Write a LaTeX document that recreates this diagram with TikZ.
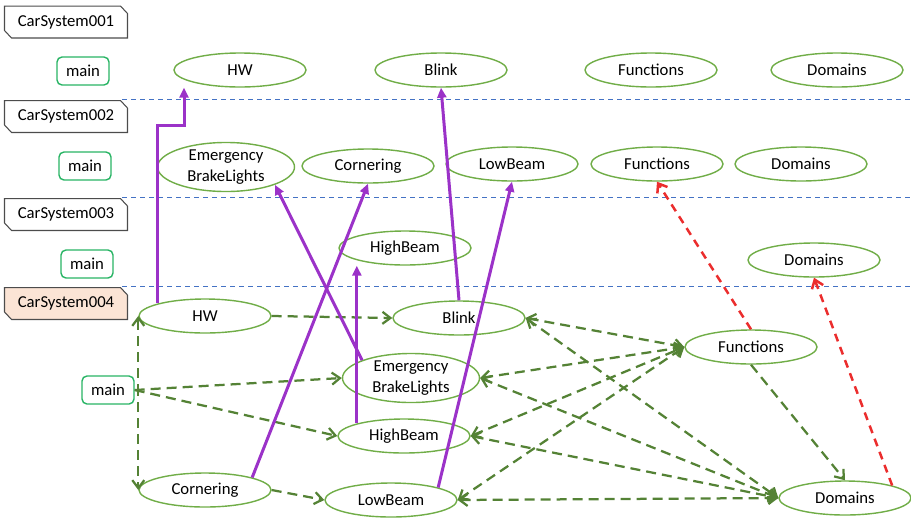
\documentclass[tikz,border=0pt]{standalone}
\usepackage{fontspec}
\setmainfont{Carlito}
\usepackage{tikz}
\usetikzlibrary{arrows.meta,positioning,shapes.geometric,calc}
\definecolor{lanegreen}{RGB}{112,173,71}
\definecolor{depgreen}{RGB}{84,130,53}
\definecolor{mainborder}{RGB}{40,180,100}
\definecolor{sepblue}{RGB}{68,114,196}
\definecolor{tracepurple}{RGB}{155,50,200}
\definecolor{mapred}{RGB}{235,45,45}
\definecolor{sysfill}{RGB}{251,228,213}
\tikzset{
    sysbox/.style   = {rectangle, inner sep=0pt, minimum width=24.8mm, minimum height=6.6mm,
            path picture={
                \path[draw=black!70, fill=#1, line width=0.6pt]
                ($(path picture bounding box.north west)+(0.3pt,-0.3pt)$)
                -- ($(path picture bounding box.north east)+(-1.5mm,-0.3pt)$)
                -- ($(path picture bounding box.north east)+(-0.3pt,-1.6mm)$)
                -- ($(path picture bounding box.south east)+(-0.3pt,0.3pt)$)
                -- ($(path picture bounding box.south west)+(1.5mm,0.3pt)$)
                -- ($(path picture bounding box.south west)+(0.3pt,1.6mm)$) -- cycle;
            }},
    sysbox/.default = white,
    mainbox/.style  = {draw=mainborder, thick, rounded corners=1mm, fill=white,
            minimum width=10.4mm, minimum height=5.6mm, inner sep=0pt},
    feat/.style     = {ellipse, draw=lanegreen, thick, fill=white,
            minimum width=26.4mm, minimum height=6.8mm, inner sep=0pt, align=center},
    featbig/.style  = {feat, minimum width=27.4mm, minimum height=8.4mm},
    laneline/.style = {draw=sepblue, line width=0.3mm, dash pattern=on 1mm off 0.8mm},
    depline/.style  = {-{Straight Barb[length=1.6mm,width=2.4mm]}, draw=depgreen,
            line width=0.45mm, dash pattern=on 2mm off 1.2mm},
    depboth/.style  = {depline, {Straight Barb[length=1.6mm,width=2.4mm]}-{Straight Barb[length=1.6mm,width=2.4mm]}},
    traceline/.style = {-{Triangle[length=2mm,width=1.8mm]}, draw=tracepurple, line width=0.6mm},
    mapline/.style  = {-{Straight Barb[length=1.6mm,width=2.4mm]}, draw=mapred,
            line width=0.5mm, dash pattern=on 1.6mm off 1.2mm},
}

\begin{document}
\begin{tikzpicture}[x=0.2mm, y=-0.2mm, font=\fontsize{9.5}{12}\selectfont]
    \useasboundingbox (0,0) rectangle (911,517);
    \coordinate (R) at (911,0);
    % Lanes
    \node[sysbox] (cs1) at (66,22) {CarSystem001};
    \node[sysbox] (cs2) at (66,116.5) {CarSystem002};
    \node[sysbox] (cs3) at (66,214.5) {CarSystem003};
    \node[sysbox=sysfill] (cs4) at (66,303.5) {CarSystem004};
    \draw[laneline] ([xshift=-1.2mm]cs2.north east) -- (cs2.north east -| R);
    \draw[laneline] ([xshift=-1.2mm]cs3.north east) -- (cs3.north east -| R);
    \draw[laneline] ([xshift=-1.2mm]cs4.north east) -- (cs4.north east -| R);
    % Nodes
    \node[mainbox] (main1) at (83,71) {main};
    \node[feat] (HW1) at (240,70) {HW};
    \node[feat] (Blink1) at (441,70) {Blink};
    \node[feat] (Func1) at (651,70) {Functions};
    \node[feat] (Dom1) at (837,70) {Domains};

    \node[mainbox] (main2) at (85,166) {main};
    \node[featbig] (EBL2) at (226,167) {Emergency\\BrakeLights};
    \node[feat] (Corn2) at (368,166) {Cornering};
    \node[feat] (LB2) at (512,164) {LowBeam};
    \node[feat] (Func2) at (657,164) {Functions};
    \node[feat] (Dom2) at (801,164) {Domains};

    \node[mainbox] (main3) at (87,264) {main};
    \node[feat] (HB3) at (405,248) {HighBeam};
    \node[feat] (Dom3) at (814,260) {Domains};

    \node[mainbox] (main4) at (108,390) {main};
    \node[feat] (HW4) at (205,316) {HW};
    \node[feat] (Blink4) at (459,318) {Blink};
    \node[featbig, minimum height=9mm] (EBL4) at (411,378) {Emergency\\BrakeLights};
    \node[feat] (HB4) at (404,436) {HighBeam};
    \node[feat] (Corn4) at (205,490) {Cornering};
    \node[feat] (LB4) at (391,500) {LowBeam};
    \node[feat] (Func4) at (751,347) {Functions};
    \node[feat] (Dom4) at (845,498) {Domains};
    % Arrows
    \draw[depline] (main4.east) -| (HW4.west);
    \draw[depline] (main4.east) -| (Corn4.west);
    \draw[depline] (main4.east) -- (EBL4.west);
    \draw[depline] (main4.east) -- (HB4.west);
    \draw[depline] (HW4.east) -- (Blink4.west);
    \draw[depline] (Corn4.east) -- (LB4.west);
    \foreach \f in {Blink4, EBL4, HB4, LB4} {
        \draw[depboth] (\f.east) -- (Func4.west);
        \draw[depboth] (\f.east) -- (Dom4.west);
    }
    \draw[depline] (Func4.south) -- (Dom4.north);

    \coordinate (hwbend) at (184,125); % step of the HW trace
    \draw[traceline] (HW4.north west) |- (hwbend) -- (hwbend |- HW1.south);
    \draw[traceline] (Blink4.north) -- (Blink1.south);
    \draw[traceline] (EBL4.north west) -- (EBL2.south east);
    \draw[traceline] (HB4.north west) -- (HB4.north west |- HB3.south);
    \draw[traceline] (Corn4.north east) -- (Corn2.south);
    \draw[traceline] (LB4.north east) -- (LB2.south);

    \draw[mapline] (Func4.north) -- (Func2.south);
    \draw[mapline] (Dom4.north east) -- (Dom3.south);
\end{tikzpicture}
\end{document}
